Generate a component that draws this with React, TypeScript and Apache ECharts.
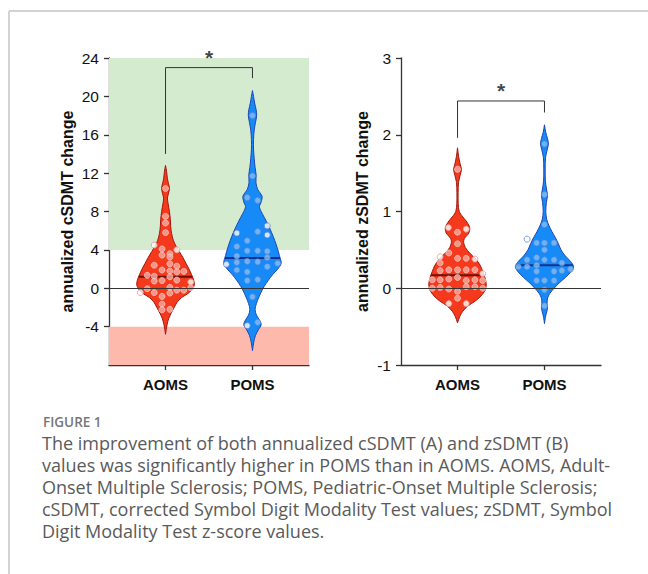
import React, { useEffect, useRef } from "react";
import * as echarts from "echarts";

// ---------- data ----------
const categories = ["AOMS", "POMS"];
const cTickValues = [-4, 0, 4, 8, 12, 16, 20, 24];
const zTickValues = [-1, 0, 1, 2, 3];

const cMedians = [1.2, 3.15];
const zMedians = [0.17, 0.3];

// significance brackets [x, y]
const cBracket = [[0, 14], [0, 23], [1, 23], [1, 21.9]];
const zBracket = [[0, 1.96], [0, 2.44], [1, 2.44], [1, 2.29]];
const cStar = [0.5, 23];
const zStar = [0.5, 2.44];

// shaded bands on cSDMT panel
const cImproveBand = [4, 24];
const cWorsenBand = [-8, -4];

// violin profiles [y, halfWidth]
const cAomsProfile = [
  [12.8, 0], [12.2, 0.012], [11.4, 0.022], [10.9, 0.035], [10.4, 0.045], [9.9, 0.035], [9.4, 0.022],
  [8.8, 0.03], [8.0, 0.045], [7.2, 0.055], [6.4, 0.06], [5.7, 0.07], [5.0, 0.09], [4.4, 0.12],
  [3.8, 0.16], [3.2, 0.2], [2.6, 0.235], [2.0, 0.27], [1.4, 0.3], [0.8, 0.325], [0.3, 0.33],
  [-0.2, 0.3], [-0.6, 0.25], [-1.0, 0.18], [-1.5, 0.13], [-2.0, 0.1], [-2.6, 0.065], [-3.2, 0.035],
  [-3.8, 0.018], [-4.3, 0.008], [-4.8, 0],
];
const cPomsProfile = [
  [20.6, 0], [20.0, 0.012], [19.3, 0.025], [18.6, 0.042], [18.0, 0.048], [17.3, 0.035], [16.5, 0.02],
  [15.5, 0.012], [14.5, 0.012], [13.5, 0.02], [12.6, 0.03], [11.8, 0.042], [11.0, 0.04], [10.3, 0.06],
  [9.6, 0.11], [9.0, 0.1], [8.5, 0.08], [8.0, 0.1], [7.4, 0.135], [6.6, 0.18], [5.8, 0.22],
  [5.0, 0.255], [4.2, 0.285], [3.4, 0.31], [2.6, 0.33], [2.0, 0.29], [1.4, 0.23], [0.8, 0.18],
  [0.2, 0.135], [-0.4, 0.1], [-1.0, 0.07], [-1.6, 0.045], [-2.2, 0.03], [-2.8, 0.045], [-3.3, 0.08],
  [-3.8, 0.1], [-4.3, 0.07], [-4.9, 0.035], [-5.6, 0.015], [-6.5, 0],
];
const zAomsProfile = [
  [1.83, 0], [1.72, 0.012], [1.62, 0.03], [1.55, 0.045], [1.47, 0.03], [1.38, 0.012], [1.25, 0.007],
  [1.1, 0.008], [1.0, 0.02], [0.93, 0.06], [0.86, 0.11], [0.79, 0.14], [0.72, 0.13], [0.65, 0.08],
  [0.6, 0.07], [0.53, 0.09], [0.46, 0.14], [0.38, 0.21], [0.3, 0.26], [0.22, 0.29], [0.14, 0.315],
  [0.06, 0.33], [-0.02, 0.32], [-0.1, 0.27], [-0.17, 0.2], [-0.23, 0.12], [-0.3, 0.06], [-0.37, 0.025],
  [-0.45, 0],
];
const zPomsProfile = [
  [2.13, 0], [2.03, 0.015], [1.95, 0.035], [1.88, 0.045], [1.8, 0.03], [1.7, 0.012], [1.55, 0.008],
  [1.4, 0.01], [1.28, 0.025], [1.21, 0.035], [1.12, 0.022], [1.0, 0.015], [0.9, 0.025], [0.82, 0.05],
  [0.74, 0.085], [0.66, 0.125], [0.58, 0.16], [0.5, 0.19], [0.42, 0.24], [0.35, 0.3], [0.28, 0.335],
  [0.21, 0.3], [0.14, 0.24], [0.07, 0.17], [0.0, 0.11], [-0.07, 0.06], [-0.13, 0.035], [-0.2, 0.03],
  [-0.25, 0.035], [-0.31, 0.025], [-0.38, 0.01], [-0.46, 0],
];

// individual points [xOffset, y, hollow]
const cAomsPoints = [
  [0, 10.4, 0], [0, 7.5, 0], [0, 6.8, 0], [0, 5.8, 0],
  [-0.13, 4.5, 1], [-0.04, 4.1, 0], [0.13, 4.0, 1],
  [0.05, 3.6, 0], [-0.04, 3.45, 0], [0.05, 3.25, 0],
  [-0.13, 2.4, 0], [0.05, 2.55, 0], [0.13, 2.3, 0],
  [-0.04, 1.9, 0], [0.05, 1.8, 0], [0.21, 1.75, 0], [0.13, 1.7, 0],
  [-0.21, 1.35, 0], [-0.13, 1.25, 0], [0.05, 1.2, 0],
  [-0.04, 0.8, 0], [0.13, 0.85, 0], [-0.13, 0.75, 0], [0.29, 0.65, 1],
  [-0.29, -0.45, 1], [-0.21, -0.05, 0], [-0.13, -0.45, 0], [-0.04, -0.85, 0], [0.05, 0.1, 0],
  [0.05, -0.5, 0], [0.13, -0.2, 0], [0.21, -0.2, 0], [0.29, 0.05, 0],
  [-0.04, -1.65, 0], [-0.04, -2.25, 0], [0.05, -2.2, 0],
];
const cPomsPoints = [
  [0, 18.0, 0], [0, 11.7, 0], [-0.06, 9.45, 0], [0.06, 9.15, 0],
  [0.17, 6.5, 1], [-0.18, 5.75, 1], [0.06, 5.9, 0], [0.17, 5.55, 1],
  [-0.06, 4.95, 0], [-0.18, 4.35, 0],
  [-0.06, 3.9, 0], [0.06, 3.9, 0], [0.17, 3.85, 0],
  [-0.18, 3.35, 0], [0.17, 3.2, 0],
  [-0.3, 2.5, 1], [-0.18, 2.7, 0], [-0.06, 2.8, 0], [0.06, 2.75, 0], [0.29, 2.6, 0], [0.17, 2.25, 0],
  [-0.18, 1.9, 0], [-0.06, 1.7, 0],
  [0.06, 0.9, 0], [-0.06, 0.8, 0],
  [0, -0.9, 0],
  [-0.06, -3.9, 1], [0.06, -3.55, 0],
];
const zAomsPoints = [
  [0, 1.55, 0],
  [-0.105, 0.79, 1], [0, 0.73, 0], [0.1, 0.77, 1],
  [0, 0.58, 0],
  [-0.2, 0.41, 1], [-0.1, 0.46, 0], [0, 0.39, 0], [0.1, 0.39, 0], [0.2, 0.38, 1],
  [-0.2, 0.33, 0],
  [-0.2, 0.23, 0], [-0.1, 0.24, 0], [0, 0.24, 0], [0.1, 0.24, 0], [0.2, 0.24, 0], [0.29, 0.19, 1],
  [-0.29, 0.11, 0], [-0.2, 0.11, 0], [-0.1, 0.12, 0], [0, 0.14, 0], [0.1, 0.1, 0], [0.2, 0.11, 0], [0.29, 0.1, 0],
  [-0.29, 0.0, 0], [-0.2, 0.01, 0], [-0.1, -0.01, 0], [0.1, 0.02, 0], [0.2, 0.02, 0], [0.29, 0.0, 0],
  [0, -0.04, 0], [0, -0.13, 0],
  [-0.1, -0.2, 1], [0.1, -0.2, 1],
];
const zPomsPoints = [
  [0, 1.88, 0], [0, 1.22, 0], [0, 0.83, 0],
  [-0.2, 0.64, 1], [-0.09, 0.59, 0], [0, 0.59, 0], [0.11, 0.59, 0],
  [0, 0.5, 0],
  [-0.09, 0.4, 0], [-0.2, 0.37, 0], [0, 0.37, 0], [0.11, 0.37, 0], [0.2, 0.33, 0],
  [-0.3, 0.28, 0], [-0.2, 0.28, 0], [-0.09, 0.3, 0], [0.3, 0.25, 0],
  [-0.09, 0.22, 0], [0.11, 0.22, 0], [0.2, 0.23, 0],
  [-0.09, 0.1, 0], [0, 0.1, 0], [0.11, 0.1, 0],
  [0, -0.02, 0], [0, -0.23, 0],
];

const captionTitle = "FIGURE 1";
const captionLines = [
  "The improvement of both annualized cSDMT (A) and zSDMT (B)",
  "values was significantly higher in POMS than in AOMS. AOMS, Adult-",
  "Onset Multiple Sclerosis; POMS, Pediatric-Onset Multiple Sclerosis;",
  "cSDMT, corrected Symbol Digit Modality Test values; zSDMT, Symbol",
  "Digit Modality Test z-score values.",
];

// ---------- styling ----------
const FONT = "'Liberation Sans', Arial, Helvetica, sans-serif";
const CAPTION_FONT = "'Open Sans', 'Noto Sans', sans-serif";
const AXIS_COLOR = "#333";
const groupStyle = [
  {
    fill: "#f5391c",
    stroke: "#a3180b",
    median: "#6e1208",
    pointFill: "#f4aca4",
    pointBorder: "#fbd6d1",
    hollowBorder: "#e9958d",
  },
  {
    fill: "#168bf7",
    stroke: "#1c46b2",
    median: "#13308f",
    pointFill: "#86bdf2",
    pointBorder: "#5a88d8",
    hollowBorder: "#5d82d4",
  },
];

function widthAt(profile: number[][], y: number) {
  for (let i = 0; i < profile.length - 1; i++) {
    const [y0, w0] = profile[i];
    const [y1, w1] = profile[i + 1];
    if ((y <= y0 && y >= y1) || (y >= y0 && y <= y1)) {
      const t = y0 === y1 ? 0 : (y - y0) / (y1 - y0);
      return w0 + t * (w1 - w0);
    }
  }
  return 0;
}

function violinSeries(gridIdx: number, profiles: number[][][], medians: number[]) {
  return {
    type: "custom",
    xAxisIndex: gridIdx,
    yAxisIndex: gridIdx,
    z: 2,
    silent: true,
    clip: false,
    data: categories.map((_, i) => [i, medians[i]]),
    renderItem: (params: any, api: any) => {
      const i = params.dataIndex;
      const cx = api.value(0);
      const prof = profiles[i];
      const st = groupStyle[i];
      const right = prof.map(([y, w]) => api.coord([cx + w, y]));
      const left = prof
        .slice()
        .reverse()
        .map(([y, w]) => api.coord([cx - w, y]));
      const pts = right.concat(left);
      const m = medians[i];
      const mw = widthAt(prof, m);
      const p1 = api.coord([cx - mw, m]);
      const p2 = api.coord([cx + mw, m]);
      return {
        type: "group",
        children: [
          {
            type: "polygon",
            shape: { points: pts, smooth: 0.3 },
            style: { fill: st.fill, stroke: st.stroke, lineWidth: 1 },
          },
          {
            type: "line",
            shape: { x1: p1[0], y1: p1[1], x2: p2[0], y2: p2[1] },
            style: { stroke: st.median, lineWidth: 2 },
          },
        ],
      };
    },
  };
}

function pointSeries(gridIdx: number, groupIdx: number, pts: number[][]) {
  const st = groupStyle[groupIdx];
  return {
    type: "scatter",
    xAxisIndex: gridIdx,
    yAxisIndex: gridIdx,
    z: 4,
    silent: true,
    symbol: "circle",
    symbolSize: 6,
    data: pts.map(([dx, y, h]) => ({
      value: [groupIdx + dx, y],
      itemStyle: h
        ? { color: "#ffffff", borderColor: st.hollowBorder, borderWidth: 1 }
        : { color: st.pointFill, borderColor: st.pointBorder, borderWidth: 0.8 },
    })),
  };
}

function bracketSeries(gridIdx: number, br: number[][], star: number[]) {
  return [
    {
      type: "line",
      xAxisIndex: gridIdx,
      yAxisIndex: gridIdx,
      z: 5,
      silent: true,
      symbol: "none",
      data: br,
      lineStyle: { color: "#333", width: 1 },
    },
    {
      type: "scatter",
      xAxisIndex: gridIdx,
      yAxisIndex: gridIdx,
      z: 5,
      silent: true,
      symbolSize: 1,
      itemStyle: { color: "rgba(0,0,0,0)" },
      data: [star],
      label: {
        show: true,
        formatter: "*",
        position: "top",
        distance: -1,
        fontSize: 21,
        fontWeight: "bold",
        fontFamily: FONT,
        color: "#111",
      },
    },
  ];
}

function bgSeries(gridIdx: number, bands: any[]) {
  return {
    type: "line",
    xAxisIndex: gridIdx,
    yAxisIndex: gridIdx,
    z: 1,
    silent: true,
    symbol: "none",
    data: [[0, 0]],
    lineStyle: { width: 0 },
    markArea: { silent: true, data: bands },
    markLine: {
      silent: true,
      symbol: ["none", "none"],
      label: { show: false },
      lineStyle: { color: AXIS_COLOR, width: 1.2, type: "solid" },
      data: [{ yAxis: 0 }],
    },
  };
}

function xAxis(gridIdx: number) {
  return {
    type: "value",
    gridIndex: gridIdx,
    min: -0.65,
    max: 1.65,
    splitLine: { show: false },
    axisLine: { show: true, onZero: false, lineStyle: { color: AXIS_COLOR, width: 1.3 } },
    axisTick: { show: true, customValues: [0, 1], length: 5, lineStyle: { color: AXIS_COLOR, width: 1.3 } },
    axisLabel: {
      customValues: [0, 1],
      formatter: (v: number) => categories[Math.round(v)] || "",
      fontFamily: FONT,
      fontWeight: "bold",
      fontSize: 15,
      color: "#111",
      margin: 12,
    },
  };
}

function yAxis(gridIdx: number, min: number, max: number, interval: number, ticks: number[], name: string, gap: number) {
  return {
    type: "value",
    gridIndex: gridIdx,
    min,
    max,
    interval,
    name,
    nameLocation: "middle",
    nameGap: gap,
    nameTextStyle: { fontFamily: FONT, fontWeight: "bold", fontSize: 16, color: "#111" },
    splitLine: { show: false },
    axisLine: { show: true, onZero: false, lineStyle: { color: AXIS_COLOR, width: 1.3 } },
    axisTick: { show: true, customValues: ticks, length: 5, lineStyle: { color: AXIS_COLOR, width: 1.3 } },
    axisLabel: {
      customValues: ticks,
      fontFamily: FONT,
      fontSize: 15.5,
      color: "#111",
      margin: 10,
    },
  };
}

export default function App() {
  const ref = useRef<HTMLDivElement>(null);
  useEffect(() => {
    if (!ref.current) return;
    const chart = echarts.init(ref.current, null, { renderer: "svg" });
    const graphics: any[] = [
      { type: "line", shape: { x1: 9, y1: 11, x2: 648, y2: 11 }, style: { stroke: "#c4c4c4", lineWidth: 1.5 } },
      { type: "line", shape: { x1: 9, y1: 11, x2: 9, y2: 574 }, style: { stroke: "#c4c4c4", lineWidth: 1.5 } },
      {
        type: "text",
        x: 43,
        y: 422,
        style: {
          text: captionTitle,
          fontFamily: CAPTION_FONT,
          fontWeight: 600,
          fontSize: 13.5,
          fill: "#777",
          verticalAlign: "middle",
        },
      },
      ...captionLines.map((t, i) => ({
        type: "text",
        x: 42,
        y: 443 + i * 22,
        style: {
          text: t,
          fontFamily: CAPTION_FONT,
          fontSize: 18,
          fill: "#5a5a5a",
          verticalAlign: "middle",
        },
      })),
    ];
    chart.setOption({
      animation: false,
      backgroundColor: "#ffffff",
      grid: [
        { left: 109, top: 58, width: 200, height: 307 },
        { left: 401, top: 58, width: 200, height: 307 },
      ],
      xAxis: [xAxis(0), xAxis(1)],
      yAxis: [
        yAxis(0, -8, 24, 4, cTickValues, "annualized cSDMT change", 34),
        yAxis(1, -1, 3, 1, zTickValues, "annualized zSDMT change", 31),
      ],
      graphic: graphics,
      series: [
        bgSeries(0, [
          [{ yAxis: cImproveBand[0], itemStyle: { color: "#d4ebd0" } }, { yAxis: cImproveBand[1] }],
          [{ yAxis: cWorsenBand[0], itemStyle: { color: "#fdb9ac" } }, { yAxis: cWorsenBand[1] }],
        ]),
        bgSeries(1, []),
        violinSeries(0, [cAomsProfile, cPomsProfile], cMedians),
        violinSeries(1, [zAomsProfile, zPomsProfile], zMedians),
        pointSeries(0, 0, cAomsPoints),
        pointSeries(0, 1, cPomsPoints),
        pointSeries(1, 0, zAomsPoints),
        pointSeries(1, 1, zPomsPoints),
        ...bracketSeries(0, cBracket, cStar),
        ...bracketSeries(1, zBracket, zStar),
      ],
    });
    return () => chart.dispose();
  }, []);
  return (
    <div
      ref={ref}
      style={{ position: "absolute", left: 0, top: 0, width: 648, height: 574, background: "#fff" }}
    />
  );
}
